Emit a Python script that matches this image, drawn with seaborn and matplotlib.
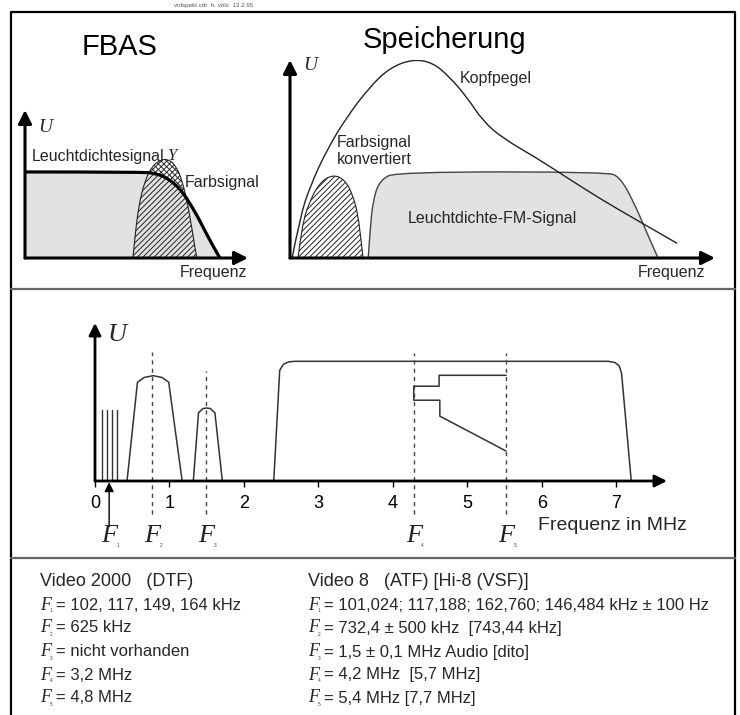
import numpy as np
import pandas as pd
import seaborn as sns
import matplotlib.pyplot as plt
from matplotlib.path import Path
from matplotlib.patches import PathPatch

sns.set_theme(style="white")
plt.rcParams['font.family'] = ['Liberation Sans', 'DejaVu Sans']
plt.rcParams['hatch.linewidth'] = 0.7

# --- FBAS (Frequenz 0..10, U relativ)
fbas_lum_f = [0, 5.29, 5.83, 6.28, 6.73, 7.09, 7.44, 7.80, 8.12, 8.43, 8.74]
fbas_lum_u = [1.0, 1.0, 0.983, 0.942, 0.86, 0.756, 0.616, 0.453, 0.29, 0.14, 0.0]
fbas_farb_f = [4.84, 4.95, 5.1, 5.35, 5.7, 6.1, 6.4, 6.75, 7.05, 7.3, 7.5, 7.62, 7.71]
fbas_farb_u = [0, 0.3, 0.6, 0.88, 1.07, 1.14, 1.15, 1.08, 0.9, 0.62, 0.32, 0.12, 0]

# --- Speicherung
kopf_f = [0.05, 0.24, 0.47, 0.87, 1.34, 1.88, 2.35, 2.89, 3.36, 3.76, 4.16, 4.54,
          5.01, 5.81, 6.59, 7.36, 8.16, 9.11]
kopf_u = [0, 0.48, 0.83, 1.26, 1.64, 1.99, 2.21, 2.31, 2.27, 2.10, 1.87, 1.59,
          1.39, 1.16, 0.91, 0.67, 0.44, 0.17]
konv_f = [0.19, 0.28, 0.47, 0.71, 1.01, 1.29, 1.48, 1.60, 1.67, 1.72]
konv_u = [0, 0.38, 0.67, 0.88, 0.97, 0.91, 0.73, 0.50, 0.21, 0]
fm_f = [1.84, 1.88, 1.95, 2.12, 2.52, 7.46, 7.76, 8.07, 8.40, 8.66]
fm_u = [0, 0.29, 0.67, 0.91, 1.0, 1.0, 0.94, 0.67, 0.29, 0]

# --- Spektrum in MHz
pilot_f = [0.094, 0.161, 0.228, 0.295]
pilot_u = 5.9
farb_f = [0.43, 0.57, 0.66, 0.78, 0.90, 0.99, 1.17]
farb_u = [0, 8.25, 8.65, 8.8, 8.65, 8.25, 0]
audio_f = [1.32, 1.39, 1.45, 1.5, 1.55, 1.61, 1.71]
audio_u = [0, 5.7, 6.05, 6.1, 6.05, 5.7, 0]
lum_f = [2.40, 2.48, 2.53, 2.60, 2.68, 6.89, 6.98, 7.04, 7.07, 7.20]
lum_u = [0, 9.25, 9.75, 9.95, 10, 10, 9.9, 9.6, 9.0, 0]
stufe_f = [5.52, 4.62, 4.62, 4.28, 4.28, 4.63, 4.63, 5.52]
stufe_u = [8.83, 8.83, 7.92, 7.92, 6.75, 6.75, 5.42, 2.5]
marken_f = [0.19, 0.77, 1.49, 4.28, 5.52]
marken_top = [None, 10.75, 9.2, 10.7, 10.7]
marken_sub = ['1', '2', '3', '4', '5']
ticks_mhz = [0, 1, 2, 3, 4, 5, 6, 7]

# --- Tabelle
v2000_titel = "Video 2000   (DTF)"
v2000_werte = ["= 102, 117, 149, 164 kHz", "= 625 kHz", "= nicht vorhanden",
               "= 3,2 MHz", "= 4,8 MHz"]
v8_titel = "Video 8   (ATF) [Hi-8 (VSF)]"
v8_werte = ["= 101,024; 117,188; 162,760; 146,484 kHz ± 100 Hz",
            "= 732,4 ± 500 kHz  [743,44 kHz]", "= 1,5 ± 0,1 MHz Audio [dito]",
            "= 4,2 MHz  [5,7 MHz]", "= 5,4 MHz [7,7 MHz]"]

W, H = 740, 715
fig = plt.figure(figsize=(W / 100, H / 100), dpi=100)
fig.patch.set_facecolor('white')


def px_axes(x0, x1, y0, y1):
    # x0/x1 links/rechts, y0 unten (Ursprung), y1 oben in Pixeln
    a = fig.add_axes([x0 / W, (H - y0) / H, (x1 - x0) / W, (y0 - y1) / H])
    a.set_facecolor('none')
    a.axis('off')
    return a


def pfeil(ax, x0, y0, x1, y1, lw, ms):
    ax.annotate("", xy=(x1, y1), xytext=(x0, y0),
                arrowprops=dict(arrowstyle="-|>", color="black", lw=lw,
                                mutation_scale=ms, shrinkA=0, shrinkB=0),
                annotation_clip=False)


def linie(ax, x, y, **kw):
    sns.lineplot(x=x, y=y, sort=False, estimator=None, ax=ax, legend=False, **kw)


def glatt(x, y, extra=(), schliessen=False):
    p = np.column_stack([x, y]).astype(float)
    verts = [p[0]]
    codes = [Path.MOVETO]
    for i in range(1, len(p) - 1):
        verts += [p[i], (p[i] + p[i + 1]) / 2]
        codes += [Path.CURVE3, Path.CURVE3]
    verts.append(p[-1])
    codes.append(Path.LINETO)
    for q in extra:
        verts.append(q)
        codes.append(Path.LINETO)
    if schliessen:
        verts.append(p[0])
        codes.append(Path.CLOSEPOLY)
    return Path(verts, codes)


# FBAS
ax1 = px_axes(25, 248, 258, 110)
ax1.set_xlim(0, 10)
ax1.set_ylim(0, 1.72)
ax1.add_patch(PathPatch(glatt(fbas_lum_f, fbas_lum_u, extra=[(0, 0)], schliessen=True),
                        facecolor='#e2e2e2', lw=0))
ax1.add_patch(PathPatch(glatt(fbas_farb_f, fbas_farb_u, schliessen=True),
                        facecolor='none', edgecolor='#222222', hatch='//////', lw=0.8))
# Teil des Farbsignals oberhalb der Leuchtdichtekurve kreuzschraffiert
ueber = PathPatch(glatt(fbas_lum_f, fbas_lum_u, extra=[(10, 0), (10, 1.72), (0, 1.72)],
                        schliessen=True), transform=ax1.transData)
kreuz = PathPatch(glatt(fbas_farb_f, fbas_farb_u, schliessen=True),
                  facecolor='none', edgecolor='#222222', hatch='\\\\\\\\\\\\', lw=0)
ax1.add_patch(kreuz)
kreuz.set_clip_path(ueber)
ax1.add_patch(PathPatch(glatt(fbas_lum_f, fbas_lum_u), facecolor='none',
                        edgecolor='black', lw=2.3))
pfeil(ax1, 0, 0, 0, 1.72, 2.2, 20)
pfeil(ax1, 0, 0, 10, 0, 2.2, 20)

# Speicherung
ax2 = px_axes(290, 715, 258, 60)
ax2.set_xlim(0, 10)
ax2.set_ylim(0, 2.30)
ax2.add_patch(PathPatch(glatt(fm_f, fm_u, schliessen=True), facecolor='#e2e2e2',
                        edgecolor='#444444', lw=1.0))
ax2.add_patch(PathPatch(glatt(konv_f, konv_u, schliessen=True), facecolor='none',
                        edgecolor='#222222', hatch='//////', lw=0.8))
ax2.add_patch(PathPatch(glatt(kopf_f, kopf_u), facecolor='none',
                        edgecolor='#222222', lw=1.0))
pfeil(ax2, 0, 0, 0, 2.30, 2.2, 20)
pfeil(ax2, 0, 0, 10, 0, 2.2, 20)

# Spektrum
ax3 = fig.add_axes([95 / W, (H - 481) / H, 572 / W, 158 / H])
ax3.set_facecolor('none')
ax3.set_xlim(0, 7.68)
ax3.set_ylim(0, 13.2)
for s in ax3.spines.values():
    s.set_visible(False)
ax3.set_yticks([])
ax3.set_xticks(ticks_mhz)
ax3.set_xticklabels([str(t) for t in ticks_mhz])
ax3.tick_params(axis='x', bottom=True, length=4, width=1.0, color='black',
                direction='out', pad=6, labelsize=13, labelcolor='black')
ax3.grid(False)
for f in pilot_f:
    ax3.plot([f, f], [0, pilot_u], color='#333333', lw=1.0)
linie(ax3, farb_f, farb_u, color='#333333', lw=1.1)
linie(ax3, audio_f, audio_u, color='#333333', lw=1.1)
linie(ax3, lum_f, lum_u, color='#333333', lw=1.1)
linie(ax3, stufe_f, stufe_u, color='#333333', lw=1.1)
for f, top in zip(marken_f[1:], marken_top[1:]):
    ax3.plot([f, f], [-2.75, top], color='#444444', lw=1.0, ls=(0, (3, 3)),
             clip_on=False)
pfeil(ax3, marken_f[0], -3.8, marken_f[0], -0.1, 1.0, 14)
pfeil(ax3, 0, 0, 0, 13.2, 2.0, 18)
pfeil(ax3, 0, 0, 7.68, 0, 2.0, 18)
serif = dict(family='Liberation Serif', style='italic')
for f, sub in zip(marken_f, marken_sub):
    ax3.text(f, -4.6, "F", ha='center', va='center', fontsize=19, color='#222222', **serif)
    ax3.text(f + 0.1, -5.4, sub, ha='left', va='center', fontsize=3.5, color='#444444')

# Rahmen und Texte
ov = fig.add_axes([0, 0, 1, 1], zorder=10)
ov.set_xlim(0, W)
ov.set_ylim(H, 0)
ov.axis('off')
ov.patch.set_alpha(0)
ov.plot([11, 11, 735, 735], [H, 12, 12, H], color='black', lw=1.6)
ov.plot([11, 735], [289, 289], color='#666666', lw=1.6)
ov.plot([11, 735], [558, 558], color='#666666', lw=1.6)

ov.text(214, 5, "vidspekt.cdr  h. völz  13.2.95", fontsize=4.5, color='#555555',
        ha='center', va='center')
ov.text(120, 47, "FBAS", fontsize=21, ha='center', va='center', color='black')
ov.text(444, 40, "Speicherung", fontsize=21, ha='center', va='center', color='black')
ov.text(38, 127, "U", fontsize=14, ha='left', va='center', **serif)
ov.text(303, 66, "U", fontsize=14, ha='left', va='center', **serif)
ov.text(108, 335, "U", fontsize=19, ha='left', va='center', **serif)
ov.text(32, 156, "Leuchtdichtesignal", fontsize=11.5, ha='left', va='center')
ov.text(167, 156, "Y", fontsize=12, ha='left', va='center', **serif)
ov.text(185, 182, "Farbsignal", fontsize=11.5, ha='left', va='center')
ov.text(247, 272, "Frequenz", fontsize=11.5, ha='right', va='center')
ov.text(705, 272, "Frequenz", fontsize=11.5, ha='right', va='center')
ov.text(460, 78, "Kopfpegel", fontsize=11.5, ha='left', va='center')
ov.text(337, 142, "Farbsignal", fontsize=11.5, ha='left', va='center')
ov.text(337, 160, "konvertiert", fontsize=11.5, ha='left', va='center')
ov.text(408, 218, "Leuchtdichte-FM-Signal", fontsize=11.5, ha='left', va='center')
ov.text(538, 525, "Frequenz in MHz", fontsize=14, ha='left', va='center')

zeilen_y = [605, 628, 652, 675, 698]
for x0, titel, werte in [(40, v2000_titel, v2000_werte), (308, v8_titel, v8_werte)]:
    ov.text(x0, 582, titel, fontsize=13, ha='left', va='center')
    for y, sub, w in zip(zeilen_y, marken_sub, werte):
        ov.text(x0, y, "F", fontsize=13, ha='left', va='center', color='#222222', **serif)
        ov.text(x0 + 10, y + 6, sub, fontsize=3.5, ha='left', va='center', color='#444444')
        ov.text(x0 + 16, y, w, fontsize=12, ha='left', va='center')

fig.savefig("out.png", dpi=100)
